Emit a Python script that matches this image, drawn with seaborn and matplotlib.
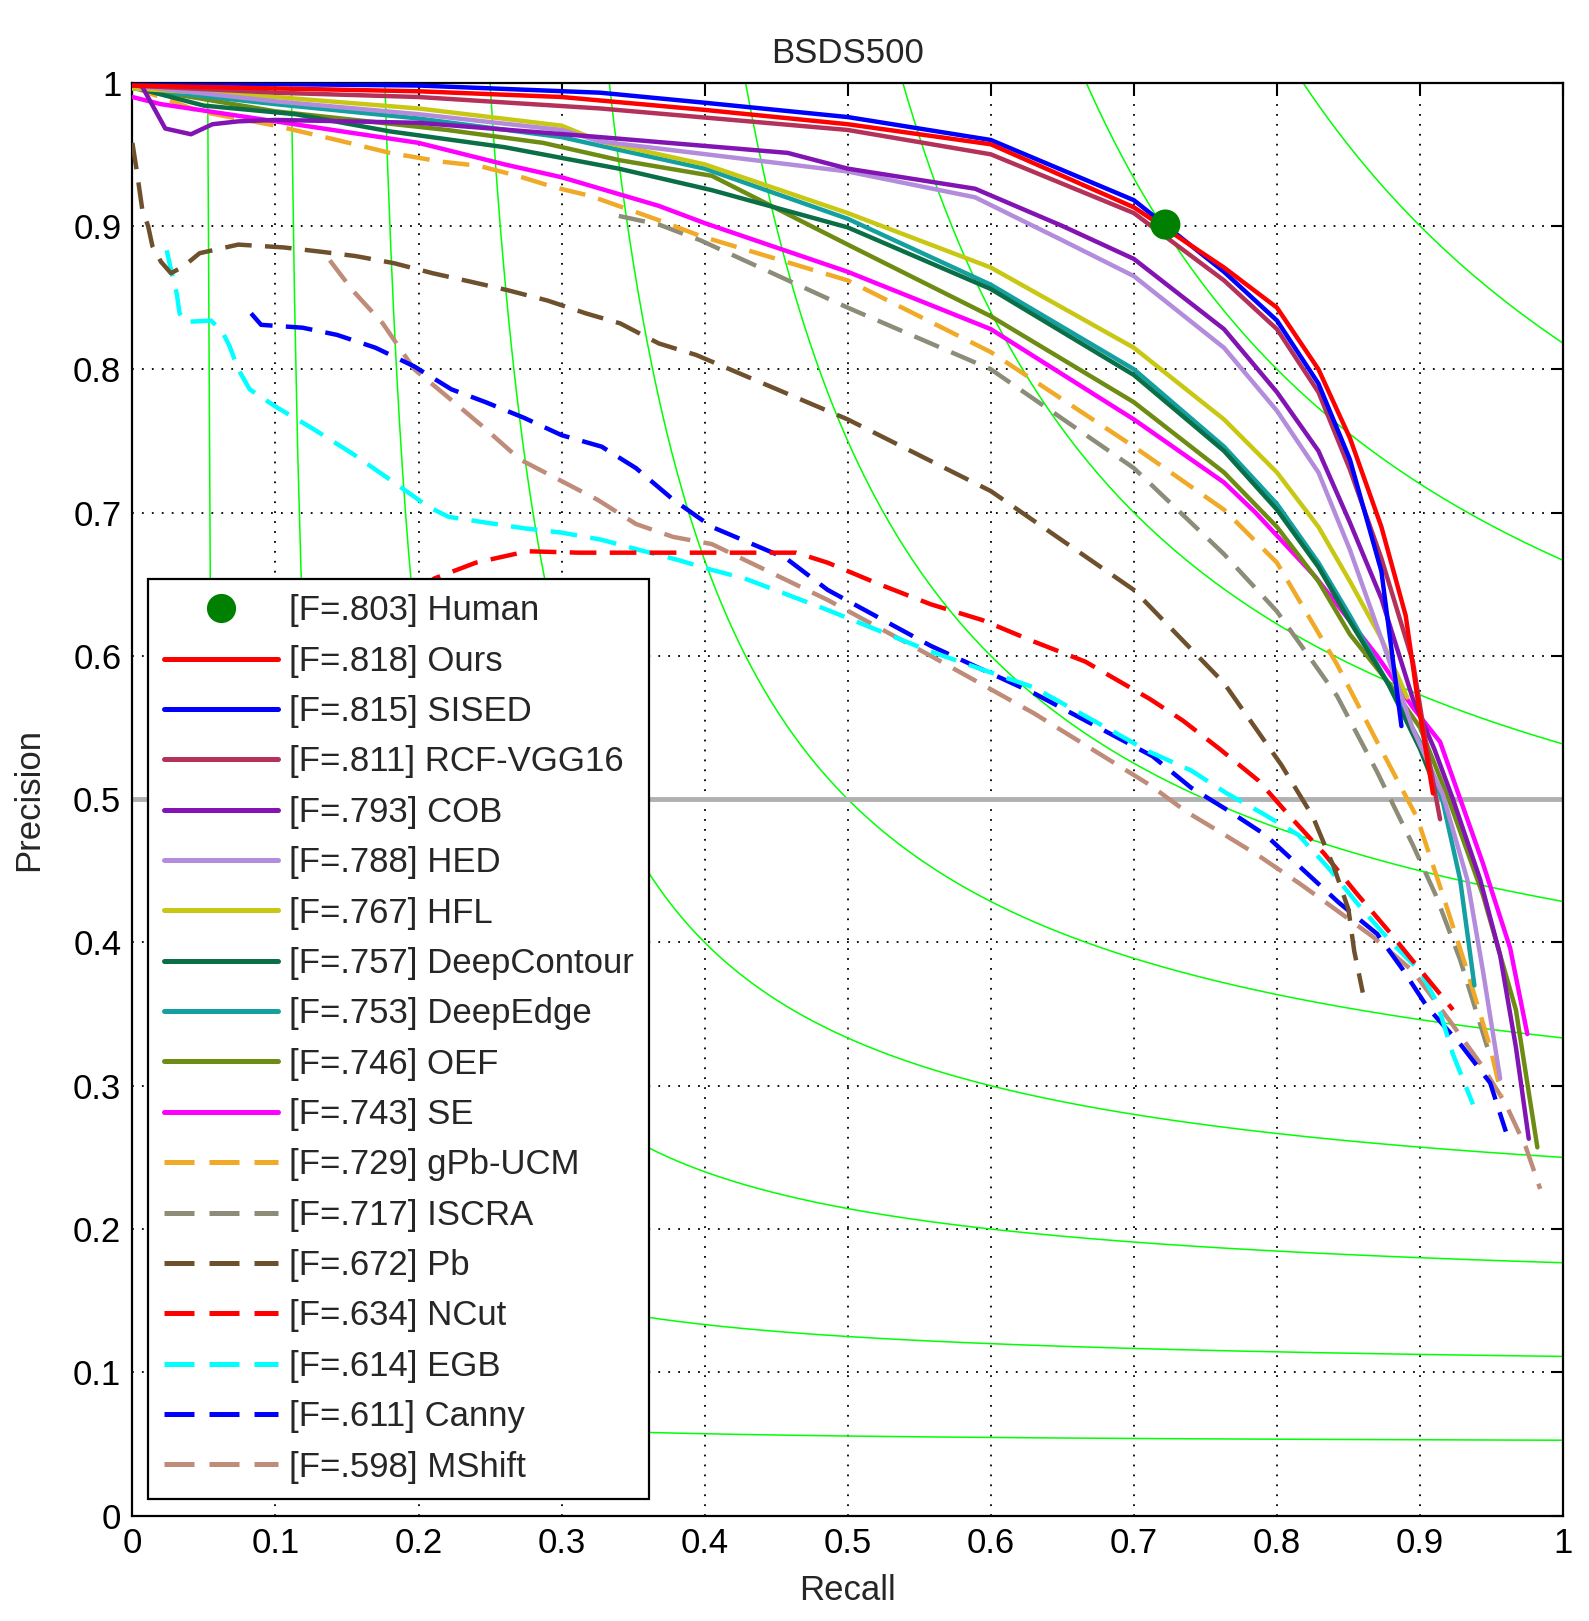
import numpy as np
import pandas as pd
import seaborn as sns
import matplotlib.pyplot as plt
from matplotlib.lines import Line2D

# ---------------- DATA ----------------
methods = ["Ours", "SISED", "RCF-VGG16", "COB", "HED", "HFL", "DeepContour",
           "DeepEdge", "OEF", "SE", "gPb-UCM", "ISCRA", "Pb", "NCut", "EGB",
           "Canny", "MShift"]
f_scores = [".818", ".815", ".811", ".793", ".788", ".767", ".757", ".753",
            ".746", ".743", ".729", ".717", ".672", ".634", ".614", ".611", ".598"]
colors = ["#ff0000", "#0000ff", "#b4325a", "#8214b4", "#b48cdc", "#c8c814",
          "#0a6e46", "#14a0a0", "#6e8c14", "#ff00ff", "#f0aa28", "#8c8c78",
          "#6e502d", "#ff0000", "#00ffff", "#0000ff", "#be8c78"]
dashed = [False] * 10 + [True] * 7

human_r = [0.722]
human_p = [0.901]
human_f = ".803"

ours_r = [0.0, 0.1, 0.2, 0.3, 0.4, 0.5, 0.6, 0.7, 0.763, 0.8, 0.829, 0.851, 0.873, 0.89, 0.899, 0.909]
ours_p = [0.998, 0.996, 0.994, 0.99, 0.981, 0.971, 0.957, 0.913, 0.871, 0.843, 0.8, 0.752, 0.69, 0.628, 0.565, 0.504]

sised_r = [0.0, 0.1, 0.2, 0.327, 0.4, 0.5, 0.6, 0.7, 0.763, 0.8, 0.829, 0.851, 0.873, 0.887]
sised_p = [1.0, 0.999, 0.998, 0.993, 0.986, 0.976, 0.96, 0.918, 0.868, 0.834, 0.79, 0.737, 0.659, 0.551]

rcf_r = [0.0, 0.1, 0.2, 0.327, 0.5, 0.6, 0.7, 0.763, 0.8, 0.829, 0.851, 0.873, 0.895, 0.905, 0.914]
rcf_p = [0.998, 0.993, 0.99, 0.982, 0.967, 0.95, 0.909, 0.862, 0.828, 0.784, 0.73, 0.668, 0.596, 0.534, 0.486]

cob_r = [0.0, 0.007, 0.023, 0.041, 0.056, 0.074, 0.1, 0.2, 0.327, 0.458, 0.5, 0.589, 0.65, 0.7,
         0.763, 0.8, 0.829, 0.851, 0.873, 0.895, 0.91, 0.923, 0.942, 0.956, 0.967, 0.976]
cob_p = [1.0, 0.997, 0.968, 0.964, 0.971, 0.973, 0.974, 0.972, 0.962, 0.951, 0.94, 0.926, 0.9, 0.877,
         0.828, 0.784, 0.743, 0.693, 0.64, 0.57, 0.535, 0.5, 0.444, 0.391, 0.327, 0.263]

hed_r = [0.0, 0.1, 0.2, 0.3, 0.327, 0.5, 0.589, 0.65, 0.7, 0.763, 0.8, 0.829, 0.851, 0.873,
         0.895, 0.916, 0.933, 0.944, 0.956]
hed_p = [0.998, 0.987, 0.978, 0.967, 0.959, 0.938, 0.92, 0.89, 0.865, 0.815, 0.771, 0.728, 0.674, 0.612,
         0.549, 0.503, 0.444, 0.38, 0.305]

hfl_r = [0.0, 0.1, 0.2, 0.3, 0.327, 0.4, 0.5, 0.6, 0.7, 0.763, 0.8, 0.829, 0.851, 0.873, 0.891]
hfl_p = [0.996, 0.99, 0.982, 0.97, 0.959, 0.943, 0.909, 0.871, 0.815, 0.765, 0.728, 0.69, 0.652, 0.612, 0.571]

dcont_r = [0.0, 0.05, 0.114, 0.18, 0.26, 0.34, 0.405, 0.5, 0.6, 0.7, 0.763, 0.8, 0.829, 0.851,
           0.878, 0.9, 0.91]
dcont_p = [0.997, 0.984, 0.978, 0.966, 0.955, 0.94, 0.925, 0.899, 0.856, 0.796, 0.743, 0.702, 0.662, 0.624,
           0.58, 0.535, 0.51]

dedge_r = [0.0, 0.1, 0.2, 0.3, 0.327, 0.4, 0.5, 0.6, 0.7, 0.763, 0.8, 0.829, 0.851, 0.878,
           0.9, 0.916, 0.928, 0.938]
dedge_p = [0.996, 0.985, 0.975, 0.962, 0.956, 0.94, 0.905, 0.859, 0.8, 0.746, 0.706, 0.665, 0.628, 0.58,
           0.54, 0.498, 0.444, 0.37]

oef_r = [0.0, 0.1, 0.22, 0.287, 0.34, 0.405, 0.5, 0.6, 0.7, 0.763, 0.8, 0.829, 0.851, 0.879,
         0.9, 0.92, 0.944, 0.967, 0.982]
oef_p = [0.997, 0.98, 0.967, 0.958, 0.946, 0.935, 0.887, 0.837, 0.777, 0.728, 0.69, 0.652, 0.615, 0.58,
         0.55, 0.5, 0.433, 0.353, 0.257]

se_r = [0.0, 0.02, 0.1, 0.2, 0.26, 0.3, 0.368, 0.4, 0.5, 0.6, 0.7, 0.763, 0.785, 0.827, 0.87,
        0.895, 0.914, 0.944, 0.963, 0.975]
se_p = [0.99, 0.985, 0.973, 0.958, 0.943, 0.934, 0.914, 0.902, 0.868, 0.828, 0.765, 0.721, 0.7, 0.655, 0.6,
        0.564, 0.54, 0.455, 0.396, 0.336]

gpb_r = [0.0, 0.047, 0.1, 0.143, 0.18, 0.215, 0.242, 0.269, 0.295, 0.32, 0.368, 0.397, 0.5, 0.6, 0.7,
         0.763, 0.8, 0.842, 0.87, 0.898, 0.916, 0.933, 0.949, 0.957]
gpb_p = [0.997, 0.98, 0.97, 0.96, 0.951, 0.945, 0.942, 0.935, 0.927, 0.921, 0.904, 0.893, 0.862, 0.812, 0.746,
         0.702, 0.665, 0.594, 0.54, 0.487, 0.433, 0.38, 0.327, 0.293]

iscra_r = [0.34, 0.368, 0.397, 0.5, 0.6, 0.7, 0.763, 0.8, 0.842, 0.87, 0.895, 0.911, 0.928, 0.947]
iscra_p = [0.907, 0.901, 0.89, 0.843, 0.8, 0.731, 0.671, 0.631, 0.572, 0.519, 0.468, 0.433, 0.388, 0.327]

pb_r = [0.0, 0.003, 0.007, 0.011, 0.014, 0.02, 0.027, 0.036, 0.047, 0.074, 0.106, 0.132, 0.156, 0.183,
        0.21, 0.237, 0.263, 0.29, 0.317, 0.341, 0.368, 0.394, 0.5, 0.6, 0.7, 0.763, 0.803, 0.825,
        0.84, 0.85, 0.854, 0.86]
pb_p = [0.958, 0.939, 0.911, 0.9, 0.886, 0.875, 0.867, 0.872, 0.881, 0.887, 0.885, 0.882, 0.879, 0.874,
        0.867, 0.861, 0.855, 0.848, 0.839, 0.832, 0.818, 0.81, 0.765, 0.715, 0.646, 0.581, 0.524, 0.488,
        0.452, 0.423, 0.394, 0.365]

ncut_r = [0.2, 0.211, 0.24, 0.276, 0.312, 0.377, 0.464, 0.486, 0.522, 0.558, 0.594, 0.63, 0.666, 0.711,
          0.734, 0.76, 0.787, 0.81, 0.833, 0.855, 0.878, 0.9, 0.923]
ncut_p = [0.645, 0.654, 0.665, 0.673, 0.672, 0.672, 0.672, 0.665, 0.65, 0.636, 0.625, 0.61, 0.596, 0.57,
          0.555, 0.535, 0.513, 0.487, 0.462, 0.435, 0.408, 0.381, 0.353]

egb_r = [0.024, 0.028, 0.031, 0.033, 0.037, 0.055, 0.063, 0.068, 0.074, 0.082, 0.1, 0.127, 0.154, 0.18,
         0.207, 0.221, 0.247, 0.274, 0.3, 0.328, 0.354, 0.381, 0.405, 0.428, 0.486, 0.558, 0.63, 0.711,
         0.74, 0.765, 0.79, 0.815, 0.836, 0.858, 0.88, 0.9, 0.912, 0.923, 0.937]
egb_p = [0.883, 0.865, 0.853, 0.839, 0.833, 0.834, 0.826, 0.816, 0.8, 0.786, 0.774, 0.758, 0.741, 0.723,
         0.704, 0.697, 0.693, 0.689, 0.686, 0.681, 0.674, 0.667, 0.66, 0.654, 0.632, 0.603, 0.578, 0.533,
         0.52, 0.504, 0.49, 0.475, 0.452, 0.425, 0.4, 0.38, 0.358, 0.322, 0.287]

canny_r = [0.083, 0.09, 0.119, 0.143, 0.17, 0.197, 0.223, 0.247, 0.274, 0.3, 0.328, 0.352, 0.378, 0.405,
           0.457, 0.486, 0.558, 0.63, 0.713, 0.74, 0.766, 0.792, 0.818, 0.843, 0.87, 0.888, 0.905, 0.929,
           0.949, 0.96]
canny_p = [0.839, 0.831, 0.829, 0.824, 0.815, 0.802, 0.786, 0.777, 0.766, 0.754, 0.746, 0.731, 0.709, 0.69,
           0.668, 0.646, 0.607, 0.574, 0.53, 0.508, 0.492, 0.475, 0.451, 0.428, 0.406, 0.381, 0.355, 0.328,
           0.302, 0.268]

mshift_r = [0.138, 0.154, 0.175, 0.197, 0.22, 0.245, 0.271, 0.298, 0.325, 0.352, 0.378, 0.405, 0.486,
            0.558, 0.63, 0.711, 0.737, 0.762, 0.788, 0.816, 0.841, 0.867, 0.895, 0.921, 0.944, 0.96,
            0.974, 0.984]
mshift_p = [0.876, 0.855, 0.832, 0.8, 0.781, 0.76, 0.737, 0.723, 0.709, 0.692, 0.683, 0.678, 0.639,
            0.6, 0.56, 0.51, 0.491, 0.476, 0.46, 0.441, 0.423, 0.404, 0.38, 0.345, 0.313, 0.287,
            0.257, 0.228]

curves_r = [ours_r, sised_r, rcf_r, cob_r, hed_r, hfl_r, dcont_r, dedge_r, oef_r, se_r,
            gpb_r, iscra_r, pb_r, ncut_r, egb_r, canny_r, mshift_r]
curves_p = [ours_p, sised_p, rcf_p, cob_p, hed_p, hfl_p, dcont_p, dedge_p, oef_p, se_p,
            gpb_p, iscra_p, pb_p, ncut_p, egb_p, canny_p, mshift_p]

# iso-F contour levels
f_levels = [0.1, 0.2, 0.3, 0.4, 0.5, 0.6, 0.7, 0.8, 0.9]

# ---------------- PLOT ----------------
sns.set_style("white")
plt.rcParams["font.family"] = ["Liberation Sans", "DejaVu Sans"]
FS = 25

fig = plt.figure(figsize=(15.89, 16.21), dpi=100)
ax = fig.add_axes([0.0833, 0.065, 0.9004, 0.884])

# iso-F lines
for f in f_levels:
    r = np.linspace(f / (2 - f), 1.0, 400)
    p = f * r / (2 * r - f)
    iso = pd.DataFrame({"Recall": r, "Precision": p})
    sns.lineplot(data=iso, x="Recall", y="Precision", ax=ax, color="#00ff00",
                 lw=1.1, sort=False, estimator=None, zorder=1)

ax.axhline(0.5, color="#b0b0b0", lw=3.5, zorder=2)

dash_pat = (6, 3)
# draw baselines first so Ours ends on top
for i in reversed(range(len(methods))):
    df = pd.DataFrame({"Recall": curves_r[i], "Precision": curves_p[i]})
    line_kw = dict(color=colors[i], lw=3.2, sort=False, estimator=None, zorder=3)
    if dashed[i]:
        line_kw["linestyle"] = (0, dash_pat)
    sns.lineplot(data=df, x="Recall", y="Precision", ax=ax, **line_kw)

sns.scatterplot(x=human_r, y=human_p, ax=ax, color="#008000", s=470,
                edgecolor="none", zorder=5)

ax.set_xlim(0, 1)
ax.set_ylim(0, 1)
ticks = np.round(np.arange(0, 1.01, 0.1), 1)
tick_lbls = ["0"] + [f"{t:g}" for t in ticks[1:-1]] + ["1"]
ax.set_xticks(ticks)
ax.set_yticks(ticks)
ax.set_xticklabels(tick_lbls)
ax.set_yticklabels(tick_lbls)
ax.tick_params(direction="in", length=9, width=1.5, top=True, right=True,
               labelsize=FS, colors="black", pad=8)
ax.grid(True, color="black", linestyle=(0, (1, 4.5)), lw=1.3)
for s in ax.spines.values():
    s.set_color("black")
    s.set_linewidth(1.6)

ax.set_title("BSDS500", fontsize=FS, pad=14)
ax.set_xlabel("Recall", fontsize=FS, labelpad=10)
ax.set_ylabel("Precision", fontsize=FS, labelpad=20)

# legend
handles = [Line2D([], [], ls="none", marker="o", ms=21, color="#008000", mec="none")]
labels = [f"[F={human_f}] Human"]
for i, m in enumerate(methods):
    ls = (0, dash_pat) if dashed[i] else "-"
    handles.append(Line2D([], [], color=colors[i], lw=3.6, ls=ls))
    labels.append(f"[F={f_scores[i]}] {m}")
leg = ax.legend(handles, labels, loc="lower left", bbox_to_anchor=(0.011, 0.0115),
                borderaxespad=0, fontsize=FS, handlelength=3.3, handletextpad=0.3,
                labelspacing=0.5, borderpad=0.45, fancybox=False, framealpha=1,
                edgecolor="black")
leg.get_frame().set_linewidth(1.6)
leg.set_zorder(10)

fig.savefig("out.png", dpi=100)
